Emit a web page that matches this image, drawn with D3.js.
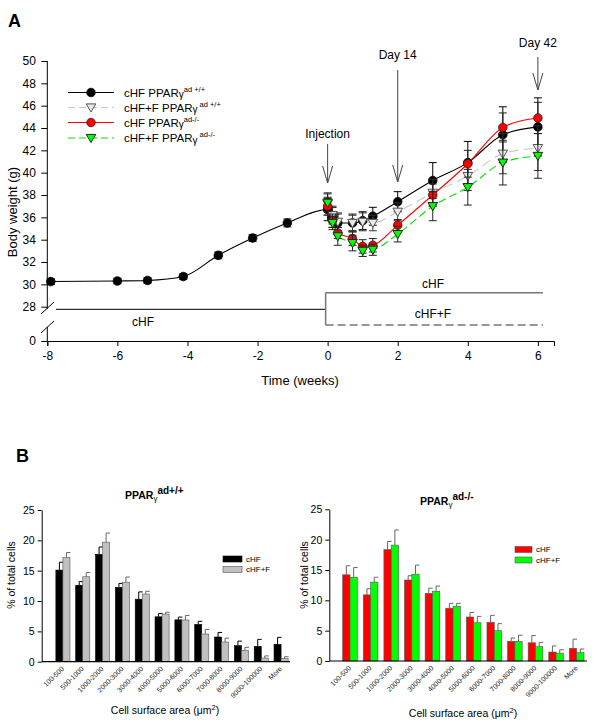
<!DOCTYPE html>
<html><head><meta charset="utf-8">
<script src="https://cdn.jsdelivr.net/npm/d3@7"></script>
<style>body{margin:0;background:#fff}svg{display:block}</style>
</head><body>
<script>
// ---------- Panel A data ----------
const timePre = [-7.9, -6, -5.14, -4.12, -3.12, -2.14, -1.15];
const blackPre = [30.25, 30.3, 30.35, 30.7, 32.6, 34.15, 35.5];
const blackPreErr = [0.25, 0.25, 0.25, 0.25, 0.3, 0.3, 0.35];
const timePost = [0, 0.14, 0.29, 0.71, 1.0, 1.29, 2, 3, 4, 5, 6];
const blackPost = [36.7, 36.0, 35.5, 35.5, 35.7, 36.1, 37.4, 39.3, 40.9, 43.4, 44.1];
const blackPostErr = [1.0, 0.9, 0.8, 0.7, 0.8, 0.8, 0.9, 1.6, 1.9, 2.5, 2.6];
const grayPost = [37.2, 36.2, 35.6, 35.5, 35.6, 35.5, 36.5, 38.2, 39.7, 41.7, 42.2];
const grayPostErr = [1.0, 0.8, 0.8, 0.8, 0.8, 0.7, 0.8, 1.2, 1.3, 1.8, 2.0];
const redPost = [37.0, 35.7, 34.6, 34.1, 33.4, 33.5, 35.3, 38.0, 40.8, 44.05, 44.9];
const redPostErr = [0.8, 0.6, 0.5, 0.6, 0.6, 0.6, 0.5, 1.0, 1.2, 1.3, 1.4];
const greenPost = [37.3, 35.5, 34.3, 33.7, 33.0, 33.1, 34.5, 37.0, 38.7, 40.9, 41.5];
const greenPostErr = [0.8, 0.6, 0.8, 0.7, 0.5, 0.5, 0.7, 1.3, 1.6, 2.0, 2.0];
const xTicksA = [-8, -6, -4, -2, 0, 2, 4, 6];
const yTicksA = [0, 28, 30, 32, 34, 36, 38, 40, 42, 44, 46, 48, 50];
const legendA = [
  {name:"cHF PPAR", sup:"ad +/+"},
  {name:"cHF+F PPAR", sup:" ad +/+"},
  {name:"cHF PPAR", sup:"ad-/-"},
  {name:"cHF+F PPAR", sup:" ad-/-"}
];
const arrowsA = [
  {t:0, label:"Injection"},
  {t:2, label:"Day 14"},
  {t:6, label:"Day 42"}
];

// ---------- Panel B data ----------
const categories = ["100-500","500-1000","1000-2000","2000-3000","3000-4000","4000-5000","5000-6000","6000-7000","7000-8000","8000-9000","9000-100000","More"];
const wtCHF = [15.1, 12.6, 17.7, 12.25, 10.3, 7.4, 6.9, 6.15, 4.07, 2.64, 2.53, 2.86];
const wtCHFerr = [1.3, 0.6, 1.2, 0.65, 1.2, 0.55, 0.45, 0.5, 0.75, 0.75, 1.15, 1.15];
const wtCHFF = [17.2, 14.0, 19.7, 13.1, 11.15, 7.85, 6.87, 4.56, 3.24, 1.87, 0.6, 0.5];
const wtCHFFerr = [0.8, 0.7, 1.5, 0.85, 0.45, 0.3, 0.75, 0.75, 0.65, 0.5, 0.35, 0.32];
const koCHF = [14.2, 10.9, 18.35, 13.35, 11.15, 8.7, 7.25, 6.37, 3.24, 3.0, 1.48, 2.1];
const koCHFerr = [1.5, 1.0, 1.35, 0.7, 0.85, 0.8, 0.75, 1.15, 0.55, 1.2, 1.0, 1.5];
const koCHFF = [13.8, 13.0, 19.1, 14.3, 11.5, 9.0, 6.3, 5.0, 3.24, 2.36, 1.3, 1.37];
const koCHFFerr = [1.6, 0.8, 2.5, 1.5, 0.85, 0.5, 1.05, 1.15, 1.0, 0.7, 0.55, 0.6];
const yTicksB = [0, 5, 10, 15, 20, 25];
const legendB = ["cHF", "cHF+F"];

const FONT = "'Liberation Sans', Arial, Helvetica, sans-serif";
const svg = d3.select("body").append("svg").attr("width", 600).attr("height", 728)
  .style("font-family", FONT);

// ================= PANEL A =================
svg.append("text").attr("x", 8).attr("y", 27).attr("font-size", 18).attr("font-weight", "bold").text("A");

const xA = d3.scaleLinear().domain([-8, 6.46]).range([47.3, 554]);
const yA = d3.scaleLinear().domain([0, 28, 50]).range([341, 306.7, 61]);

const gx = svg.append("g").attr("transform", "translate(0,341)")
  .call(d3.axisBottom(xA).tickValues(xTicksA).tickSizeOuter(0).tickSize(5).tickFormat(d => String(d)));
gx.selectAll("text").attr("font-size", 12).attr("font-family", FONT).attr("fill", "#000").attr("dy", "0.95em");
gx.select(".domain").attr("stroke", "#000");

const gy = svg.append("g").attr("transform", "translate(47.3,0)")
  .call(d3.axisLeft(yA).tickValues(yTicksA).tickSize(6).tickSizeOuter(0));
gy.select(".domain").remove();
gy.selectAll("text").attr("font-size", 12).attr("font-family", FONT).attr("fill", "#000").attr("dx", "-0.2em");
svg.append("line").attr("x1", 47.3).attr("x2", 47.3).attr("y1", yA(50)).attr("y2", 309).attr("stroke", "#000");
svg.append("line").attr("x1", 47.3).attr("x2", 47.3).attr("y1", 327).attr("y2", 341).attr("stroke", "#000");
svg.append("line").attr("x1", 41).attr("y1", 314).attr("x2", 54).attr("y2", 302).attr("stroke", "#000");
svg.append("line").attr("x1", 41).attr("y1", 333).attr("x2", 54).attr("y2", 321).attr("stroke", "#000");

svg.append("text").attr("transform", "translate(17,212) rotate(-90)").attr("text-anchor", "middle")
  .attr("font-size", 13).text("Body weight (g)");
svg.append("text").attr("x", 300).attr("y", 385).attr("text-anchor", "middle").attr("font-size", 13).text("Time (weeks)");

// diet bars
svg.append("line").attr("x1", 56).attr("x2", xA(0) - 2).attr("y1", 309.3).attr("y2", 309.3).attr("stroke", "#000");
svg.append("line").attr("x1", xA(0) - 2).attr("x2", xA(0) - 2).attr("y1", 292.7).attr("y2", 325).attr("stroke", "#777").attr("stroke-width", 1.5);
svg.append("line").attr("x1", xA(0) - 2).attr("x2", 543).attr("y1", 292.7).attr("y2", 292.7).attr("stroke", "#777").attr("stroke-width", 1.5);
svg.append("line").attr("x1", xA(0) - 2).attr("x2", 543).attr("y1", 325).attr("y2", 325).attr("stroke", "#777").attr("stroke-width", 1.5).attr("stroke-dasharray", "8,4");
svg.append("text").attr("x", 433).attr("y", 288).attr("text-anchor", "middle").attr("font-size", 12).text("cHF");
svg.append("text").attr("x", 433).attr("y", 318).attr("text-anchor", "middle").attr("font-size", 12).text("cHF+F");
svg.append("text").attr("x", 143).attr("y", 326).attr("text-anchor", "middle").attr("font-size", 12).text("cHF");

// arrows
const arrowSpec = [{y1:144, y2:183, ly:138}, {y1:70, y2:182, ly:59}, {y1:57, y2:90, ly:47}];
arrowsA.forEach((a, i) => {
  const s = arrowSpec[i], x = xA(a.t);
  svg.append("line").attr("x1", x).attr("x2", x).attr("y1", s.y1).attr("y2", s.y2).attr("stroke", "#444");
  svg.append("path").attr("d", `M${x-5},${s.y2-17}L${x},${s.y2}L${x+5},${s.y2-17}`).attr("fill", "none").attr("stroke", "#444");
  svg.append("text").attr("x", x).attr("y", s.ly).attr("text-anchor", "middle").attr("font-size", 12).text(a.label);
});

// series
const series = [
  {t: timePre.concat(timePost), v: blackPre.concat(blackPost), e: blackPreErr.concat(blackPostErr),
   line:"#000", dash:null, shape:"circle", fill:"#000", stroke:"#000", ebar:"#000"},
  {t: timePost, v: grayPost, e: grayPostErr, line:"#c8c8c8", dash:"10,5", shape:"tri", fill:"#e8e8e8", stroke:"#555", ebar:"#333"},
  {t: timePost, v: redPost, e: redPostErr, line:"#ff0000", dash:null, shape:"circle", fill:"#ff0000", stroke:"#222", ebar:"#222"},
  {t: timePost, v: greenPost, e: greenPostErr, line:"#00e000", dash:"8,4", shape:"tri", fill:"#00ff00", stroke:"#222", ebar:"#222"}
];
const lineGen = d3.line().x(d => xA(d[0])).y(d => yA(d[1])).curve(d3.curveMonotoneX);
function drawMarker(g, shape, cx, cy, fill, stroke) {
  if (shape === "circle") {
    g.append("circle").attr("cx", cx).attr("cy", cy).attr("r", 4.3).attr("fill", fill).attr("stroke", stroke).attr("stroke-width", 0.8);
  } else {
    const s = 4.8;
    g.append("path").attr("d", `M${cx-s},${cy-s*0.75}L${cx+s},${cy-s*0.75}L${cx},${cy+s*0.95}Z`)
      .attr("fill", fill).attr("stroke", stroke).attr("stroke-width", 1);
  }
}
series.forEach(s => {
  const pts = s.t.map((t, i) => [t, s.v[i], s.e[i]]);
  svg.append("path").datum(pts).attr("d", lineGen).attr("fill", "none").attr("stroke", s.line)
    .attr("stroke-width", 1.1).attr("stroke-dasharray", s.dash);
});
series.forEach(s => {
  const g = svg.append("g");
  s.t.forEach((t, i) => {
    const x = xA(t), yt = yA(s.v[i] + s.e[i]), yb = yA(s.v[i] - s.e[i]);
    g.append("line").attr("x1", x).attr("x2", x).attr("y1", yt).attr("y2", yb).attr("stroke", s.ebar).attr("stroke-width", 1);
    g.append("line").attr("x1", x - 4).attr("x2", x + 4).attr("y1", yt).attr("y2", yt).attr("stroke", s.ebar).attr("stroke-width", 1);
    g.append("line").attr("x1", x - 4).attr("x2", x + 4).attr("y1", yb).attr("y2", yb).attr("stroke", s.ebar).attr("stroke-width", 1);
  });
  s.t.forEach((t, i) => drawMarker(g, s.shape, xA(t), yA(s.v[i]), s.fill, s.stroke));
});

// legend A
const legY = [92.5, 107.5, 122.5, 138];
legendA.forEach((l, i) => {
  const s = series[i], y = legY[i];
  svg.append("line").attr("x1", 68).attr("x2", 114).attr("y1", y).attr("y2", y)
    .attr("stroke", s.line).attr("stroke-width", 1.1).attr("stroke-dasharray", s.dash ? "7,4" : null);
  drawMarker(svg, s.shape, 91, y, s.fill, s.stroke);
  const t = svg.append("text").attr("x", 124).attr("y", y + 4).attr("font-size", 11.5);
  t.append("tspan").text(l.name);
  t.append("tspan").attr("dy", 1.5).attr("font-size", 10).text("γ");
  t.append("tspan").attr("dy", -6.5).attr("font-size", 7.5).text(l.sup);
});

// ================= PANEL B =================
svg.append("text").attr("x", 16).attr("y", 462).attr("font-size", 18).attr("font-weight", "bold").text("B");

function barChart(opts) {
  const x = d3.scaleBand().domain(categories).range(opts.xr).paddingInner(0.29).paddingOuter(0.145);
  const y = d3.scaleLinear().domain([0, 25]).range(opts.yr);
  const bw = x.bandwidth() / 2;
  const g = svg.append("g");
  [[opts.a, opts.ae, opts.ca, opts.sa, opts.eca, 0], [opts.b, opts.be, opts.cb, opts.sb, opts.ecb, 1]].forEach(([vals, errs, col, sc, ec, k]) => {
    categories.forEach((c, i) => {
      const bx = x(c) + k * bw;
      const top = y(vals[i] + errs[i]), cx = bx + bw / 2;
      g.append("line").attr("x1", cx).attr("x2", cx).attr("y1", y(vals[i])).attr("y2", top).attr("stroke", ec).attr("stroke-width", 1);
      g.append("line").attr("x1", cx).attr("x2", cx + 4).attr("y1", top).attr("y2", top).attr("stroke", ec).attr("stroke-width", 1);
      g.append("rect").attr("x", bx).attr("y", y(vals[i])).attr("width", bw).attr("height", y(0) - y(vals[i]))
        .attr("fill", col).attr("stroke", sc).attr("stroke-width", 0.6);
    });
  });
  const ga = g.append("g").attr("transform", `translate(${opts.ax},0)`)
    .call(d3.axisLeft(y).tickValues(yTicksB).tickSize(4).tickSizeOuter(0));
  ga.selectAll("text").attr("font-size", 10.5).attr("font-family", FONT).attr("fill", "#000");
  ga.select(".domain").attr("stroke", "#000");
  g.append("line").attr("x1", opts.ax).attr("x2", opts.xend).attr("y1", y(0)).attr("y2", y(0)).attr("stroke", "#000").attr("stroke-width", 1.2);
  categories.forEach(c => {
    const cx = x(c) + x.bandwidth() / 2 + 1.5;
    g.append("text").attr("transform", `translate(${cx},${y(0) + 7.5}) rotate(-45)`).attr("text-anchor", "end")
      .attr("font-size", 7).attr("fill", "#222").text(c);
  });
  g.append("text").attr("transform", `translate(${opts.ylx},${opts.yly}) rotate(-90)`).attr("text-anchor", "middle")
    .attr("font-size", 10.5).text("% of total cells");
  const xt = g.append("text").attr("x", opts.xtx).attr("y", opts.xty).attr("text-anchor", "middle").attr("font-size", 10.5);
  xt.append("tspan").text("Cell surface area (μm");
  xt.append("tspan").attr("dy", -4).attr("font-size", 7.5).text("2");
  xt.append("tspan").attr("dy", 4).text(")");
  const tt = g.append("text").attr("x", opts.tx).attr("y", opts.ty).attr("font-size", 10.5).attr("font-weight", "bold");
  tt.append("tspan").text("PPAR");
  tt.append("tspan").attr("dy", 2).attr("font-size", 8).attr("font-weight", "normal").text("γ");
  tt.append("tspan").attr("dy", -7).attr("font-size", 10).text(opts.sup);
  legendB.forEach((l, i) => {
    const ly = opts.ly + i * 10.5;
    g.append("rect").attr("x", opts.lx).attr("y", ly).attr("width", opts.lw).attr("height", 6)
      .attr("fill", i === 0 ? opts.ca : opts.cb).attr("stroke", i === 0 ? opts.sa : opts.sb).attr("stroke-width", 0.6);
    g.append("text").attr("x", opts.lx + opts.lw + 4).attr("y", ly + 5.5).attr("font-size", 8).text(l);
  });
}

barChart({xr:[53, 291], yr:[661.7, 510], ax:41.7, xend:290,
  a: wtCHF, ae: wtCHFerr, b: wtCHFF, be: wtCHFFerr,
  ca:"#000", sa:"#000", cb:"#c0c0c0", sb:"#555", eca:"#000", ecb:"#666",
  ylx:15, yly:575, xtx:165, xty:714, tx:125, ty:499, sup:"ad+/+",
  lx:223, ly:556, lw:19});
barChart({xr:[339.7, 587], yr:[661, 509.3], ax:329.3, xend:587,
  a: koCHF, ae: koCHFerr, b: koCHFF, be: koCHFFerr,
  ca:"#ff0000", sa:"#555", cb:"#00ff00", sb:"#555", eca:"#666", ecb:"#666",
  ylx:308, yly:575, xtx:463, xty:717, tx:420, ty:505, sup:"ad-/-",
  lx:515, ly:546.5, lw:17});
</script>
</body></html>
